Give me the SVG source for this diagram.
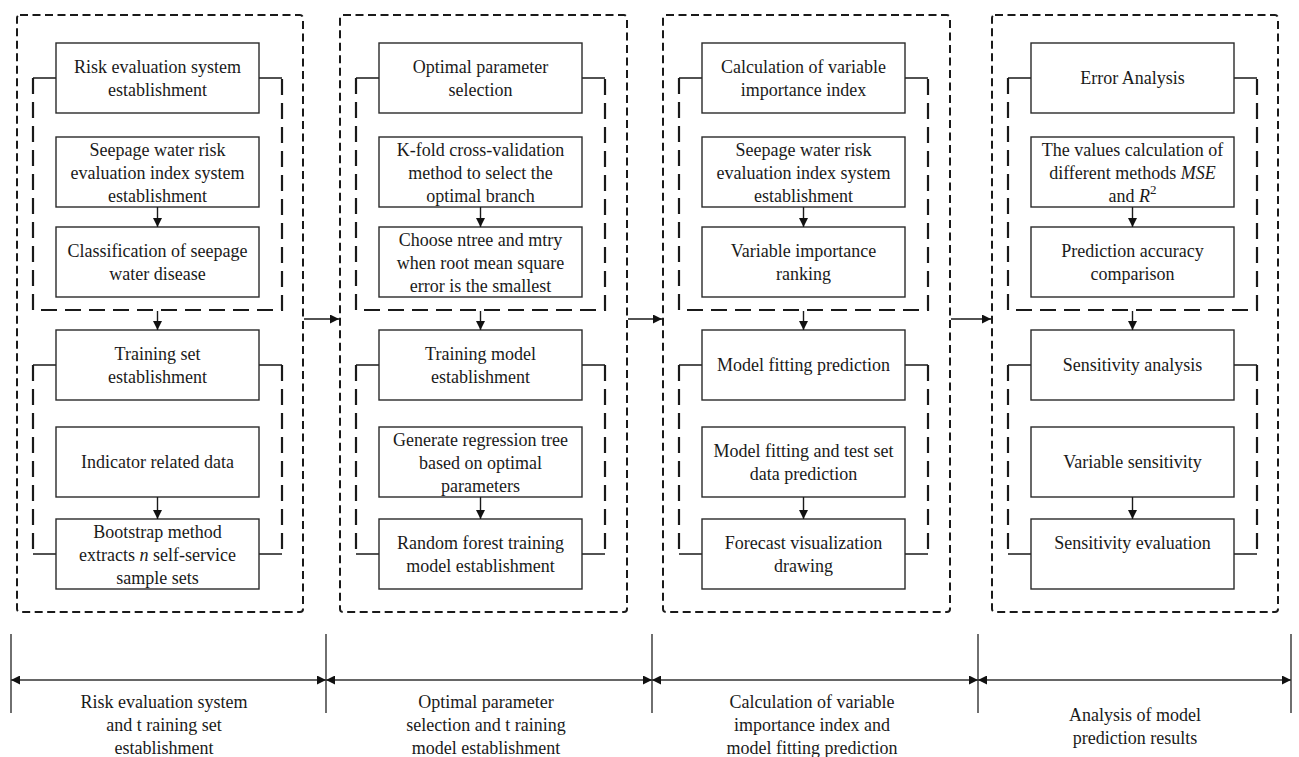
<svg xmlns="http://www.w3.org/2000/svg" width="1299" height="757" viewBox="0 0 1299 757">
<style>
.outer{fill:none;stroke:#1a1a1a;stroke-width:2;stroke-dasharray:8 4.5}
.brd{fill:none;stroke:#1a1a1a;stroke-width:2.2;stroke-dasharray:16 8}
.brs{fill:none;stroke:#1a1a1a;stroke-width:1.6}
.box{fill:#fff;stroke:#2a2a2a;stroke-width:1.4}
.t{font-family:"Liberation Serif","Times New Roman",serif;font-size:18px;fill:#1a1a1a;text-anchor:middle}
.c{fill:none;stroke:#1a1a1a;stroke-width:1.4}
.tl{fill:none;stroke:#333;stroke-width:1.4}
.i{font-style:italic}
</style>
<defs>
<marker id="ah" viewBox="0 0 9 9" refX="9" refY="4.5" markerWidth="9" markerHeight="9" markerUnits="userSpaceOnUse" orient="auto-start-reverse">
<path d="M0,0 L9,4.5 L0,9 z" fill="#111"/>
</marker>
</defs>

<!-- Column frames -->
<g id="frames">
<rect class="outer" x="17" y="15" width="286" height="597" rx="3"/>
<rect class="outer" x="340" y="15" width="287" height="597" rx="3"/>
<rect class="outer" x="663" y="15" width="287" height="597" rx="3"/>
<rect class="outer" x="992" y="15" width="286" height="597" rx="3"/>
<!-- brackets col1 -->
<path class="brd" d="M33,78 V310 H282 V78"/>
<path class="brs" d="M33,78 H56 M259,78 H282"/>
<path class="brd" d="M33,365 V554 M282,365 V554"/>
<path class="brs" d="M33,365 H56 M259,365 H282 M33,554 H56 M259,554 H282"/>
<!-- brackets col2 -->
<path class="brd" d="M356,78 V310 H605 V78"/>
<path class="brs" d="M356,78 H379 M582,78 H605"/>
<path class="brd" d="M356,365 V554 M605,365 V554"/>
<path class="brs" d="M356,365 H379 M582,365 H605 M356,554 H379 M582,554 H605"/>
<!-- brackets col3 -->
<path class="brd" d="M679,78 V310 H928 V78"/>
<path class="brs" d="M679,78 H702 M905,78 H928"/>
<path class="brd" d="M679,365 V554 M928,365 V554"/>
<path class="brs" d="M679,365 H702 M905,365 H928 M679,554 H702 M905,554 H928"/>
<!-- brackets col4 -->
<path class="brd" d="M1008,78 V310 H1257 V78"/>
<path class="brs" d="M1008,78 H1031 M1234,78 H1257"/>
<path class="brd" d="M1008,365 V554 M1257,365 V554"/>
<path class="brs" d="M1008,365 H1031 M1234,365 H1257 M1008,554 H1031 M1234,554 H1257"/>
</g>

<!-- Column 1 -->
<g id="c1n1"><rect class="box" x="56" y="43" width="203" height="70"/><text class="t" x="157.5" y="73">Risk evaluation system</text><text class="t" x="157.5" y="96">establishment</text></g>
<g id="c1n2"><rect class="box" x="56" y="137" width="203" height="70"/><text class="t" x="157.5" y="156">Seepage water risk</text><text class="t" x="157.5" y="179">evaluation index system</text><text class="t" x="157.5" y="202">establishment</text></g>
<g id="c1n3"><rect class="box" x="56" y="227" width="203" height="70"/><text class="t" x="157.5" y="257">Classification of seepage</text><text class="t" x="157.5" y="280">water disease</text></g>
<g id="c1n4"><rect class="box" x="56" y="330" width="203" height="70"/><text class="t" x="157.5" y="360">Training set</text><text class="t" x="157.5" y="383">establishment</text></g>
<g id="c1n5"><rect class="box" x="56" y="427" width="203" height="70"/><text class="t" x="157.5" y="468">Indicator related data</text></g>
<g id="c1n6"><rect class="box" x="56" y="519" width="203" height="70"/><text class="t" x="157.5" y="538">Bootstrap method</text><text class="t" x="157.5" y="561">extracts <tspan class="i">n</tspan> self-service</text><text class="t" x="157.5" y="584">sample sets</text></g>

<!-- Column 2 -->
<g id="c2n1"><rect class="box" x="379" y="43" width="203" height="70"/><text class="t" x="480.5" y="73">Optimal parameter</text><text class="t" x="480.5" y="96">selection</text></g>
<g id="c2n2"><rect class="box" x="379" y="137" width="203" height="70"/><text class="t" x="480.5" y="156">K-fold cross-validation</text><text class="t" x="480.5" y="179">method to select the</text><text class="t" x="480.5" y="202">optimal branch</text></g>
<g id="c2n3"><rect class="box" x="379" y="227" width="203" height="70"/><text class="t" x="480.5" y="246">Choose ntree  and mtry</text><text class="t" x="480.5" y="269">when root mean square</text><text class="t" x="480.5" y="292">error is the smallest</text></g>
<g id="c2n4"><rect class="box" x="379" y="330" width="203" height="70"/><text class="t" x="480.5" y="360">Training model</text><text class="t" x="480.5" y="383">establishment</text></g>
<g id="c2n5"><rect class="box" x="379" y="427" width="203" height="70"/><text class="t" x="480.5" y="446">Generate regression tree</text><text class="t" x="480.5" y="469">based on optimal</text><text class="t" x="480.5" y="492">parameters</text></g>
<g id="c2n6"><rect class="box" x="379" y="519" width="203" height="70"/><text class="t" x="480.5" y="549">Random forest training</text><text class="t" x="480.5" y="572">model establishment</text></g>

<!-- Column 3 -->
<g id="c3n1"><rect class="box" x="702" y="43" width="203" height="70"/><text class="t" x="803.5" y="73">Calculation of variable</text><text class="t" x="803.5" y="96">importance index</text></g>
<g id="c3n2"><rect class="box" x="702" y="137" width="203" height="70"/><text class="t" x="803.5" y="156">Seepage water risk</text><text class="t" x="803.5" y="179">evaluation index system</text><text class="t" x="803.5" y="202">establishment</text></g>
<g id="c3n3"><rect class="box" x="702" y="227" width="203" height="70"/><text class="t" x="803.5" y="257">Variable importance</text><text class="t" x="803.5" y="280">ranking</text></g>
<g id="c3n4"><rect class="box" x="702" y="330" width="203" height="70"/><text class="t" x="803.5" y="371">Model fitting prediction</text></g>
<g id="c3n5"><rect class="box" x="702" y="427" width="203" height="70"/><text class="t" x="803.5" y="457">Model fitting and test set</text><text class="t" x="803.5" y="480">data prediction</text></g>
<g id="c3n6"><rect class="box" x="702" y="519" width="203" height="70"/><text class="t" x="803.5" y="549">Forecast visualization</text><text class="t" x="803.5" y="572">drawing</text></g>

<!-- Column 4 -->
<g id="c4n1"><rect class="box" x="1031" y="43" width="203" height="70"/><text class="t" x="1132.5" y="84">Error Analysis</text></g>
<g id="c4n2"><rect class="box" x="1031" y="137" width="203" height="70"/><text class="t" x="1132.5" y="156">The values calculation of</text><text class="t" x="1132.5" y="179">different methods <tspan class="i">MSE</tspan></text><text class="t" x="1132.5" y="202">and <tspan class="i">R</tspan><tspan font-size="13" dy="-8">2</tspan></text></g>
<g id="c4n3"><rect class="box" x="1031" y="227" width="203" height="70"/><text class="t" x="1132.5" y="257">Prediction accuracy</text><text class="t" x="1132.5" y="280">comparison</text></g>
<g id="c4n4"><rect class="box" x="1031" y="330" width="203" height="70"/><text class="t" x="1132.5" y="371">Sensitivity analysis</text></g>
<g id="c4n5"><rect class="box" x="1031" y="427" width="203" height="70"/><text class="t" x="1132.5" y="468">Variable sensitivity</text></g>
<g id="c4n6"><rect class="box" x="1031" y="519" width="203" height="70"/><text class="t" x="1132.5" y="549">Sensitivity evaluation</text></g>

<!-- Connectors -->
<g id="connectors">
<line class="c" x1="157.5" y1="207" x2="157.5" y2="227" marker-end="url(#ah)"/>
<line class="c" x1="157.5" y1="311" x2="157.5" y2="330" marker-end="url(#ah)"/>
<line class="c" x1="157.5" y1="497" x2="157.5" y2="519" marker-end="url(#ah)"/>
<line class="c" x1="480.5" y1="207" x2="480.5" y2="227" marker-end="url(#ah)"/>
<line class="c" x1="480.5" y1="311" x2="480.5" y2="330" marker-end="url(#ah)"/>
<line class="c" x1="480.5" y1="497" x2="480.5" y2="519" marker-end="url(#ah)"/>
<line class="c" x1="803.5" y1="207" x2="803.5" y2="227" marker-end="url(#ah)"/>
<line class="c" x1="803.5" y1="311" x2="803.5" y2="330" marker-end="url(#ah)"/>
<line class="c" x1="803.5" y1="497" x2="803.5" y2="519" marker-end="url(#ah)"/>
<line class="c" x1="1132.5" y1="207" x2="1132.5" y2="227" marker-end="url(#ah)"/>
<line class="c" x1="1132.5" y1="311" x2="1132.5" y2="330" marker-end="url(#ah)"/>
<line class="c" x1="1132.5" y1="497" x2="1132.5" y2="519" marker-end="url(#ah)"/>
<line class="c" x1="304" y1="319" x2="339" y2="319" marker-end="url(#ah)"/>
<line class="c" x1="628" y1="319" x2="662" y2="319" marker-end="url(#ah)"/>
<line class="c" x1="951" y1="319" x2="991" y2="319" marker-end="url(#ah)"/>
</g>

<!-- Timeline -->
<g id="timeline">
<line class="tl" x1="11" y1="634" x2="11" y2="713"/>
<line class="tl" x1="326" y1="634" x2="326" y2="713"/>
<line class="tl" x1="652" y1="634" x2="652" y2="713"/>
<line class="tl" x1="978" y1="634" x2="978" y2="713"/>
<line class="tl" x1="1291" y1="634" x2="1291" y2="713"/>
<line class="tl" x1="11" y1="680" x2="326" y2="680" marker-start="url(#ah)" marker-end="url(#ah)"/>
<line class="tl" x1="326" y1="680" x2="652" y2="680" marker-start="url(#ah)" marker-end="url(#ah)"/>
<line class="tl" x1="652" y1="680" x2="978" y2="680" marker-start="url(#ah)" marker-end="url(#ah)"/>
<line class="tl" x1="978" y1="680" x2="1291" y2="680" marker-start="url(#ah)" marker-end="url(#ah)"/>
</g>
<g id="phase1"><text class="t" x="164" y="708">Risk evaluation system</text><text class="t" x="164" y="731">and t raining set</text><text class="t" x="164" y="754">establishment</text></g>
<g id="phase2"><text class="t" x="486" y="708">Optimal parameter</text><text class="t" x="486" y="731">selection and t raining</text><text class="t" x="486" y="754">model establishment</text></g>
<g id="phase3"><text class="t" x="812" y="708">Calculation of variable</text><text class="t" x="812" y="731">importance index and</text><text class="t" x="812" y="754">model fitting prediction</text></g>
<g id="phase4"><text class="t" x="1135" y="721">Analysis of model</text><text class="t" x="1135" y="744">prediction results</text></g>
</svg>
